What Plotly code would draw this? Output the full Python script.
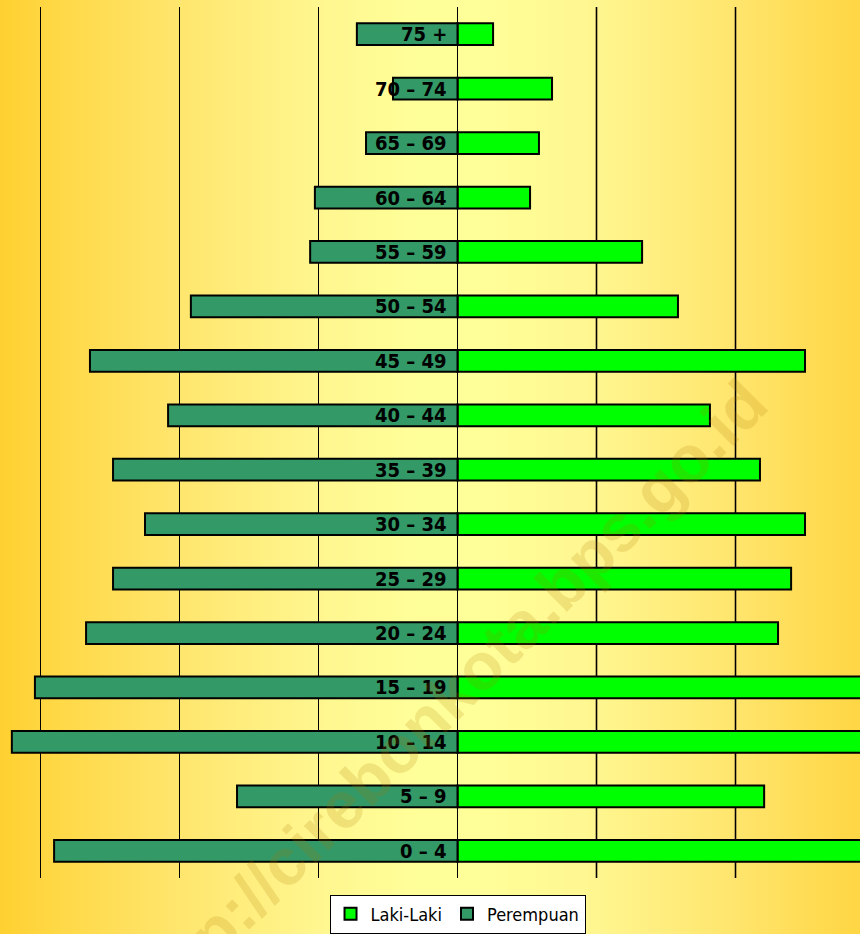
import plotly.graph_objects as go

# Kelompok umur (dari bawah ke atas)
age_groups = ["0 – 4", "5 – 9", "10 – 14", "15 – 19", "20 – 24", "25 – 29",
              "30 – 34", "35 – 39", "40 – 44", "45 – 49", "50 – 54", "55 – 59",
              "60 – 64", "65 – 69", "70 – 74", "75 +"]

laki_laki = [15000, 11030, 16100, 15400, 11530, 12000, 12500, 10880,
             9080, 12500, 7930, 6640, 2610, 2930, 3400, 1280]

perempuan = [14510, 7930, 16030, 15200, 13360, 12390, 11240, 12390,
             10410, 13220, 9590, 5300, 5130, 3290, 2320, 3620]

grid_step = 5000
narrow_font = "Liberation Sans Narrow, Arial Narrow, DejaVu Sans Condensed, sans-serif"

fig = go.Figure()

fig.add_trace(go.Bar(
    y=age_groups, x=laki_laki, orientation="h", name="Laki-Laki",
    marker=dict(color="#00FF00", line=dict(color="black", width=2)),
    hoverinfo="x+y",
))
fig.add_trace(go.Bar(
    y=age_groups, x=[-v for v in perempuan], orientation="h", name="Perempuan",
    marker=dict(color="#339966", line=dict(color="black", width=2)),
    customdata=perempuan, hovertemplate="%{y}: %{customdata}<extra></extra>",
))

# Horizontal background gradient: deep yellow edges, pale centre
stops = [(0, (255, 208, 48)), (40, (255, 214, 64)), (180, (255, 230, 110)),
         (318, (255, 246, 143)), (420, (255, 255, 153)), (475, (255, 255, 153)),
         (596, (255, 246, 144)), (735, (255, 229, 109)), (860, (255, 214, 68))]


def grad_color(px):
    for (x0, c0), (x1, c1) in zip(stops[:-1], stops[1:]):
        if x0 <= px <= x1:
            t = (px - x0) / (x1 - x0)
            r, g, b = (round(a + (bb - a) * t) for a, bb in zip(c0, c1))
            return f"rgb({r},{g},{b})"
    return f"rgb{stops[-1][1]}"


W = 860
step = 4
shapes = []
for px in range(0, W, step):
    shapes.append(dict(
        type="rect", xref="paper", yref="paper",
        x0=px / W, x1=(px + step + 0.5) / W, y0=-0.08, y1=1.02,
        fillcolor=grad_color(px + step / 2), line=dict(width=0), layer="below",
    ))

# Gridlines on the male side are drawn in a softer, heavier brown tone
for k in (1, 2):
    shapes.append(dict(
        type="line", xref="x", yref="paper", x0=k * grid_step, x1=k * grid_step,
        y0=0, y1=1, line=dict(color="#6e6038", width=2), layer="between",
    ))

# Age-group labels sitting just left of the centre line
annotations = []
for g in age_groups:
    annotations.append(dict(
        x=0, y=g, xref="x", yref="y", text=f"<b>{g}</b>", showarrow=False,
        xanchor="right", yanchor="middle", xshift=-9,
        font=dict(family=narrow_font, size=20, color="black"),
    ))

# Watermark
annotations.append(dict(
    x=0.520, y=0.206, xref="paper", yref="paper",
    text="<b>http://cirebonkota.bps.go.id</b>", showarrow=False, textangle=-45,
    font=dict(family="Liberation Sans, Arial, sans-serif", size=66,
              color="rgba(170,120,0,0.18)"),
    xanchor="center", yanchor="middle",
))

fig.update_layout(
    width=860, height=934,
    margin=dict(l=0, r=0, t=7, b=54),
    paper_bgcolor="#FFF0A0",
    plot_bgcolor="rgba(0,0,0,0)",
    barmode="relative",
    bargap=0.6,
    shapes=shapes,
    annotations=annotations,
    showlegend=True,
    legend=dict(
        orientation="h", x=0.532, xanchor="center", y=-0.019, yanchor="top",
        bgcolor="white", bordercolor="black", borderwidth=1,
        font=dict(family=narrow_font, size=18, color="black"),
        itemwidth=30, traceorder="normal", tracegroupgap=0,
    ),
    xaxis=dict(
        range=[-16456, 14478], dtick=grid_step, tick0=0,
        showgrid=True, gridcolor="black", gridwidth=1,
        zeroline=True, zerolinecolor="black", zerolinewidth=1,
        showticklabels=False, ticks="", showline=False, fixedrange=True,
    ),
    yaxis=dict(
        categoryorder="array", categoryarray=age_groups,
        showgrid=False, zeroline=False, showticklabels=False, ticks="",
        showline=False, fixedrange=True,
    ),
)

fig.write_html("out.html")
